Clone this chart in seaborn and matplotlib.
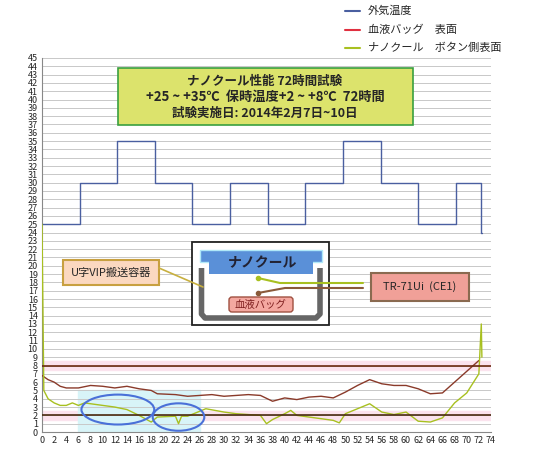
import matplotlib
matplotlib.use("Agg")
import matplotlib.pyplot as plt
import seaborn as sns
import pandas as pd
from matplotlib.patches import Rectangle, Ellipse, FancyBboxPatch

sns.set_style("white")
plt.rcParams['font.family'] = ['Noto Sans CJK JP', 'DejaVu Sans']

step_x = [0, 6.2, 12.4, 18.6, 24.8, 31, 37.2, 43.4, 49.6, 55.8, 62, 68.2, 72.4, 72.5]
step_y = [25, 30, 35, 30, 25, 30, 25, 30, 35, 30, 25, 30, 24, 24]

bag_x = [0, 1, 2, 3, 4, 6, 8, 10, 12, 14, 16, 18, 19, 22, 24, 26, 28, 30, 32, 34, 36, 38, 40, 42, 44, 46, 48, 50, 52, 54, 56, 58, 60, 62, 64, 66, 68, 70, 72]
bag_y = [6.8, 6.3, 6.0, 5.5, 5.3, 5.3, 5.6, 5.5, 5.3, 5.5, 5.2, 5.0, 4.6, 4.5, 4.3, 4.4, 4.5, 4.3, 4.4, 4.5, 4.4, 3.7, 4.1, 3.9, 4.2, 4.3, 4.1, 4.8, 5.6, 6.3, 5.8, 5.6, 5.6, 5.2, 4.6, 4.7, 6.0, 7.3, 8.6]

cool_x = [0, 0.3, 1, 2, 3, 4, 5, 6, 7, 10, 12, 14, 16, 18, 19, 22, 22.5, 23, 24, 26, 27, 30, 32, 34, 36, 37, 38, 40, 41, 42, 44, 46, 48, 49, 50, 52, 54, 56, 58, 60, 62, 64, 66, 68, 70, 72, 72.4, 72.5]
cool_y = [25, 5, 4, 3.5, 3.2, 3.2, 3.5, 3.2, 3.5, 3.2, 3.0, 2.7, 2.0, 1.2, 1.8, 1.9, 1.0, 1.9, 1.9, 2.5, 2.8, 2.4, 2.2, 2.1, 2.0, 1.0, 1.5, 2.2, 2.6, 2.0, 1.8, 1.6, 1.4, 1.1, 2.2, 2.8, 3.4, 2.4, 2.1, 2.4, 1.3, 1.2, 1.7, 3.5, 4.7, 7.0, 13.0, 9.0]

labels = ['外気温度', '血液バッグ　表面', 'ナノクール　ボタン側表面']
colors = ['#4a5fa0', '#8a3a2a', '#a8c020']

fig = plt.figure(figsize=(5.4, 4.5), dpi=100)
ax = fig.add_axes([42/540, 1-432/450, 449/540, 374/450])

ax.axhspan(7.5, 8.5, color='#fbe3ee', zorder=0)
ax.axhspan(1.5, 2.5, color='#fbe3ee', zorder=0)
ax.add_patch(Rectangle((6, 0), 20, 5, color='#d8f4f8', zorder=0))

for y in range(46):
    ax.axhline(y, color='#c8c8c8', lw=0.7, zorder=0.5)

d1 = pd.DataFrame({'x': step_x, 'y': step_y})
ax.step(d1['x'], d1['y'], where='post', color=colors[0], lw=1, zorder=3)
d2 = pd.DataFrame({'x': bag_x, 'y': bag_y})
sns.lineplot(data=d2, x='x', y='y', ax=ax, color=colors[1], lw=1, zorder=3)
d3 = pd.DataFrame({'x': cool_x, 'y': cool_y})
sns.lineplot(data=d3, x='x', y='y', ax=ax, color=colors[2], lw=1, zorder=3)

ax.axhline(8, color='#6b2a10', lw=1.2, zorder=4)
ax.axhline(2, color='#4a2a10', lw=1.2, zorder=4)

ax.add_patch(Ellipse((12.5, 2.7), 12, 3.6, fill=False, ec='#4a70d8', lw=1.5, zorder=5))
ax.add_patch(Ellipse((22.5, 1.8), 8.5, 3.3, fill=False, ec='#4a70d8', lw=1.5, zorder=5))

ax.set_xlim(0, 74)
ax.set_ylim(0, 45)
ax.set_xticks(range(0, 75, 2))
ax.set_yticks(range(0, 46))
ax.tick_params(labelsize=6.5, length=2, pad=1)
ax.set_xlabel(''); ax.set_ylabel('')
for s in ['top', 'right']:
    ax.spines[s].set_visible(False)
ax.spines['left'].set_color('#888'); ax.spines['bottom'].set_color('#888')

# overlay in pixel coordinates
ov = fig.add_axes([0, 0, 1, 1], facecolor='none')
ov.set_xlim(0, 540); ov.set_ylim(450, 0); ov.axis('off')

for i, (lab, c) in enumerate(zip(labels, colors)):
    yy = 11 + i * 18.5
    ov.plot([345, 360], [yy, yy], color=['#4a5fa0', '#e03040', '#a8c020'][i], lw=1.5)
    ov.text(368, yy, lab, fontsize=8, va='center')

ov.add_patch(Rectangle((118, 68), 295, 57, fc='#dce36c', ec='#3aa040', lw=1.2))
ov.text(265, 81, 'ナノクール性能 72時間試験', ha='center', va='center', fontsize=9, weight='bold')
ov.text(265, 97, '+25 ~ +35℃  保時温度+2 ~ +8℃  72時間', ha='center', va='center', fontsize=9.5, weight='bold')
ov.text(265, 113, '試験実施日: 2014年2月7日~10日', ha='center', va='center', fontsize=9, weight='bold')

# diagram
ov.add_patch(Rectangle((192, 242), 137, 83, fc='white', ec='#222', lw=1.3, zorder=2))
ov.add_patch(Rectangle((200, 250), 122, 12, fc='#5a90d8', ec='#b0e8f8', lw=1, zorder=3))
ov.add_patch(Rectangle((209, 258), 104, 16, fc='#5a90d8', ec='#b0e8f8', lw=0, zorder=3))
ov.text(262, 263, 'ナノクール', ha='center', va='center', fontsize=10, weight='bold', color='#223', zorder=4)
ov.plot([201.5, 201.5, 205, 316, 320, 320], [268, 314, 318, 318, 314, 268], color='#666', lw=4, zorder=3, solid_capstyle='butt')
ov.add_patch(FancyBboxPatch((229, 297), 64, 15, boxstyle='round,pad=0,rounding_size=3', fc='#f4a8a0', ec='#a05040', lw=1, zorder=4))
ov.text(261, 305, '血液バッグ', ha='center', va='center', fontsize=7.5, color='#802020', zorder=5)
ov.plot([258, 280, 363], [278, 283, 283], color='#a8c020', lw=1.5, zorder=5)
ov.plot([258], [278], 'o', color='#a8c020', ms=3, zorder=5)
ov.plot([258, 285, 363], [293, 288, 288], color='#8a5a3a', lw=1.5, zorder=5)
ov.plot([258], [293], 'o', color='#8a5a3a', ms=3, zorder=5)
ov.add_patch(Rectangle((371, 273), 98, 28, fc='#f0a098', ec='#8a6a50', lw=1.5, zorder=4))
ov.text(420, 287, 'TR-71Ui  (CE1)', ha='center', va='center', fontsize=8, zorder=5)
ov.add_patch(Rectangle((63, 260), 96, 25, fc='#fbd8c0', ec='#c8a040', lw=1.5, zorder=4))
ov.text(111, 273, 'U字VIP搬送容器', ha='center', va='center', fontsize=8, zorder=5)
ov.plot([159, 203], [268, 287], color='#c8b040', lw=1.2, zorder=5)

fig.savefig('out.png', dpi=100)
